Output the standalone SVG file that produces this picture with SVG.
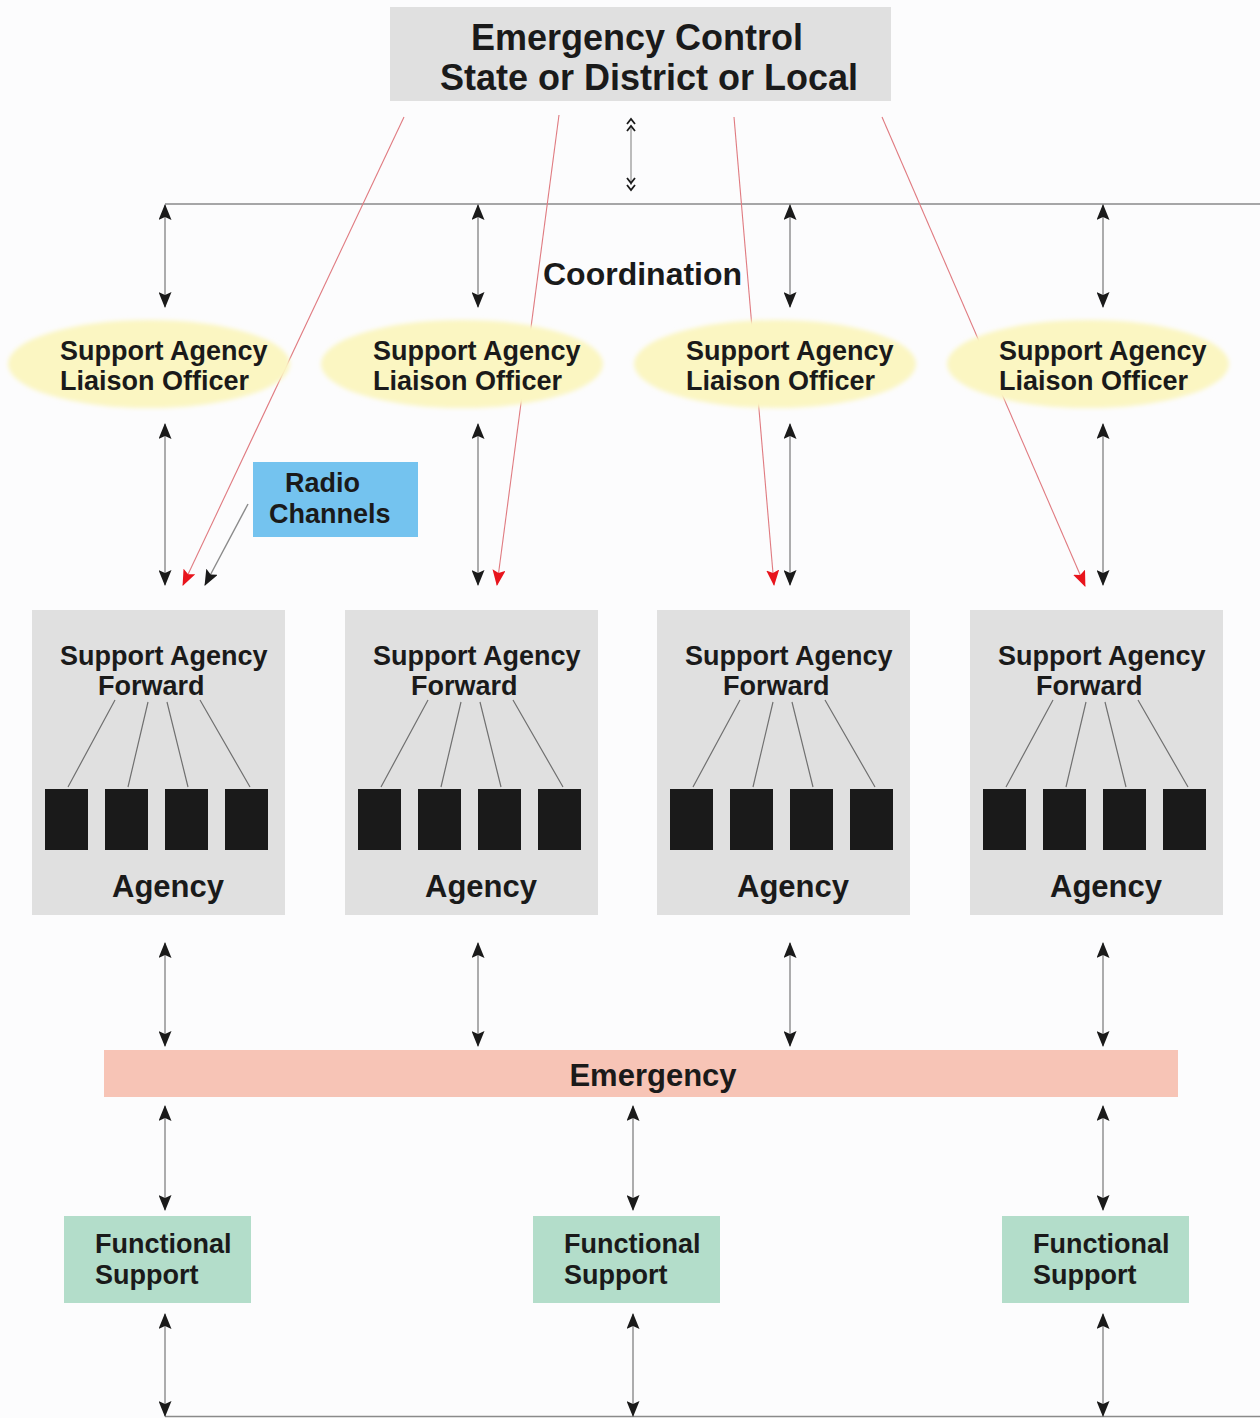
<svg xmlns="http://www.w3.org/2000/svg" width="1260" height="1418" viewBox="0 0 1260 1418">
<style>
text{font-family:"Liberation Sans",Arial,sans-serif;font-weight:bold;fill:#1a1a1a}
.t27{font-size:27px}
.grey{fill:#e0e0e0}
.conn{stroke:#8a8a8a;stroke-width:1.4;fill:none}
.red{stroke:#e07a80;stroke-width:1.1;fill:none}
.bar{fill:#1a1a1a}
</style>
<defs>
<marker id="ah" markerWidth="16" markerHeight="13" refX="15" refY="6.5" orient="auto-start-reverse" markerUnits="userSpaceOnUse" viewBox="0 0 16 13">
<path d="M0,0 L16,6.5 L0,13 L3,6.5 Z" fill="#1a1a1a"/>
</marker>
<marker id="ahr" markerWidth="16" markerHeight="13" refX="15" refY="6.5" orient="auto" markerUnits="userSpaceOnUse" viewBox="0 0 16 13">
<path d="M0,0 L16,6.5 L0,13 L3,6.5 Z" fill="#e8141c"/>
</marker>
<filter id="soft" x="-10%" y="-20%" width="120%" height="140%"><feGaussianBlur stdDeviation="2"/></filter>
</defs>
<rect width="1260" height="1418" fill="#fcfcfd"/>

<g id="connectors">
<path d="M165,204 L1260,204" class="conn"/>
<path d="M165,1416.5 L1260,1416.5" class="conn"/>
<path d="M631,128 L631,185" stroke="#9a9a9a" stroke-width="1.3"/>
<path d="M627,124 L631,119 L635,124 M627,131 L631,126 L635,131 M627,178 L631,183 L635,178 M627,185 L631,190 L635,185" stroke="#1a1a1a" stroke-width="1.8" fill="none"/>
<path d="M165,205 L165,307" class="conn" marker-start="url(#ah)" marker-end="url(#ah)"/>
<path d="M478,205 L478,307" class="conn" marker-start="url(#ah)" marker-end="url(#ah)"/>
<path d="M790,205 L790,307" class="conn" marker-start="url(#ah)" marker-end="url(#ah)"/>
<path d="M1103,205 L1103,307" class="conn" marker-start="url(#ah)" marker-end="url(#ah)"/>
<path d="M165,424 L165,585" class="conn" marker-start="url(#ah)" marker-end="url(#ah)"/>
<path d="M478,424 L478,585" class="conn" marker-start="url(#ah)" marker-end="url(#ah)"/>
<path d="M790,424 L790,585" class="conn" marker-start="url(#ah)" marker-end="url(#ah)"/>
<path d="M1103,424 L1103,585" class="conn" marker-start="url(#ah)" marker-end="url(#ah)"/>
<path d="M404,117 L183,585" class="red" marker-end="url(#ahr)"/>
<path d="M559,115 L497,585" class="red" marker-end="url(#ahr)"/>
<path d="M734,117 L774,585" class="red" marker-end="url(#ahr)"/>
<path d="M882,117 L1085,586" class="red" marker-end="url(#ahr)"/>
<path d="M248,504 L205,585" class="conn" marker-end="url(#ah)"/>
<path d="M165,943 L165,1046" class="conn" marker-start="url(#ah)" marker-end="url(#ah)"/>
<path d="M478,943 L478,1046" class="conn" marker-start="url(#ah)" marker-end="url(#ah)"/>
<path d="M790,943 L790,1046" class="conn" marker-start="url(#ah)" marker-end="url(#ah)"/>
<path d="M1103,943 L1103,1046" class="conn" marker-start="url(#ah)" marker-end="url(#ah)"/>
<path d="M165,1106 L165,1210" class="conn" marker-start="url(#ah)" marker-end="url(#ah)"/>
<path d="M633,1106 L633,1210" class="conn" marker-start="url(#ah)" marker-end="url(#ah)"/>
<path d="M1103,1106 L1103,1210" class="conn" marker-start="url(#ah)" marker-end="url(#ah)"/>
<path d="M165,1314 L165,1416" class="conn" marker-start="url(#ah)" marker-end="url(#ah)"/>
<path d="M633,1314 L633,1416" class="conn" marker-start="url(#ah)" marker-end="url(#ah)"/>
<path d="M1103,1314 L1103,1416" class="conn" marker-start="url(#ah)" marker-end="url(#ah)"/>
</g>

<g id="control">
<rect x="390" y="7" width="501" height="94" class="grey"/>
<text x="637" y="50" font-size="36" text-anchor="middle">Emergency Control</text>
<text x="649" y="90" font-size="36" text-anchor="middle">State or District or Local</text>
</g>

<g id="coordination-label"><text x="543" y="285" font-size="32">Coordination</text></g>

<g id="liaison1"><ellipse cx="149" cy="364" rx="141" ry="44" fill="#fbf6c2" filter="url(#soft)"/><text class="t27" x="60" y="360">Support Agency</text><text class="t27" x="60" y="390">Liaison Officer</text></g>
<g id="liaison2"><ellipse cx="462" cy="364" rx="141" ry="44" fill="#fbf6c2" filter="url(#soft)"/><text class="t27" x="373" y="360">Support Agency</text><text class="t27" x="373" y="390">Liaison Officer</text></g>
<g id="liaison3"><ellipse cx="775" cy="364" rx="141" ry="44" fill="#fbf6c2" filter="url(#soft)"/><text class="t27" x="686" y="360">Support Agency</text><text class="t27" x="686" y="390">Liaison Officer</text></g>
<g id="liaison4"><ellipse cx="1088" cy="364" rx="141" ry="44" fill="#fbf6c2" filter="url(#soft)"/><text class="t27" x="999" y="360">Support Agency</text><text class="t27" x="999" y="390">Liaison Officer</text></g>

<g id="radio"><rect x="253" y="462" width="165" height="75" fill="#74c3ef"/><text class="t27" x="285" y="492">Radio</text><text class="t27" x="269" y="523">Channels</text></g>

<g id="forward1" transform="translate(0,0)">
<rect x="32" y="610" width="253" height="305" class="grey"/>
<text class="t27" x="60" y="665">Support Agency</text><text class="t27" x="98" y="695">Forward</text>
<path d="M115,700 L68,787 M148,702 L128,787 M167,702 L188,787 M200,700 L250,787" stroke="#707070" stroke-width="1.2" fill="none"/>
<rect x="45" y="789" width="43" height="61" class="bar"/><rect x="105" y="789" width="43" height="61" class="bar"/><rect x="165" y="789" width="43" height="61" class="bar"/><rect x="225" y="789" width="43" height="61" class="bar"/>
<text x="112" y="897" font-size="31">Agency</text>
</g>
<g id="forward2" transform="translate(313,0)">
<rect x="32" y="610" width="253" height="305" class="grey"/>
<text class="t27" x="60" y="665">Support Agency</text><text class="t27" x="98" y="695">Forward</text>
<path d="M115,700 L68,787 M148,702 L128,787 M167,702 L188,787 M200,700 L250,787" stroke="#707070" stroke-width="1.2" fill="none"/>
<rect x="45" y="789" width="43" height="61" class="bar"/><rect x="105" y="789" width="43" height="61" class="bar"/><rect x="165" y="789" width="43" height="61" class="bar"/><rect x="225" y="789" width="43" height="61" class="bar"/>
<text x="112" y="897" font-size="31">Agency</text>
</g>
<g id="forward3" transform="translate(625,0)">
<rect x="32" y="610" width="253" height="305" class="grey"/>
<text class="t27" x="60" y="665">Support Agency</text><text class="t27" x="98" y="695">Forward</text>
<path d="M115,700 L68,787 M148,702 L128,787 M167,702 L188,787 M200,700 L250,787" stroke="#707070" stroke-width="1.2" fill="none"/>
<rect x="45" y="789" width="43" height="61" class="bar"/><rect x="105" y="789" width="43" height="61" class="bar"/><rect x="165" y="789" width="43" height="61" class="bar"/><rect x="225" y="789" width="43" height="61" class="bar"/>
<text x="112" y="897" font-size="31">Agency</text>
</g>
<g id="forward4" transform="translate(938,0)">
<rect x="32" y="610" width="253" height="305" class="grey"/>
<text class="t27" x="60" y="665">Support Agency</text><text class="t27" x="98" y="695">Forward</text>
<path d="M115,700 L68,787 M148,702 L128,787 M167,702 L188,787 M200,700 L250,787" stroke="#707070" stroke-width="1.2" fill="none"/>
<rect x="45" y="789" width="43" height="61" class="bar"/><rect x="105" y="789" width="43" height="61" class="bar"/><rect x="165" y="789" width="43" height="61" class="bar"/><rect x="225" y="789" width="43" height="61" class="bar"/>
<text x="112" y="897" font-size="31">Agency</text>
</g>

<g id="emergency"><rect x="104" y="1050" width="1074" height="47" fill="#f7c4b6"/><text x="653" y="1086" font-size="31" text-anchor="middle">Emergency</text></g>

<g id="functional1"><rect x="64" y="1216" width="187" height="87" fill="#b3ddca"/><text class="t27" x="95" y="1253">Functional</text><text class="t27" x="95" y="1284">Support</text></g>
<g id="functional2"><rect x="533" y="1216" width="187" height="87" fill="#b3ddca"/><text class="t27" x="564" y="1253">Functional</text><text class="t27" x="564" y="1284">Support</text></g>
<g id="functional3"><rect x="1002" y="1216" width="187" height="87" fill="#b3ddca"/><text class="t27" x="1033" y="1253">Functional</text><text class="t27" x="1033" y="1284">Support</text></g>
</svg>
